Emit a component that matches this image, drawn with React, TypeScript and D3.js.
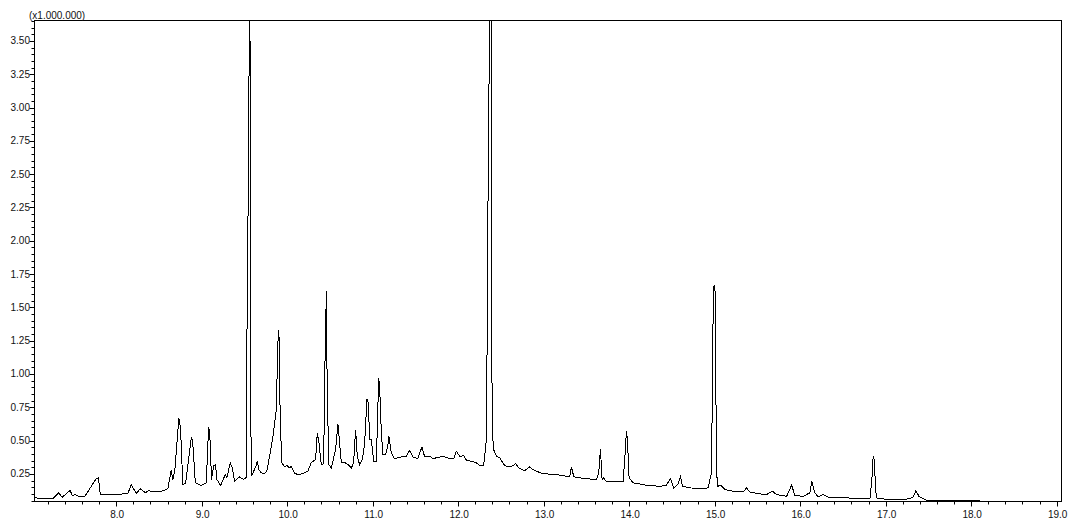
import React from "react";
import * as d3 from "d3";

// Chromatogram trace: [retention time (min), intensity (x1,000,000)]
const chromatogram: [number, number][] = [
  [7.044, 0.070], [7.258, 0.065], [7.328, 0.108], [7.368, 0.075], [7.434, 0.112],
  [7.462, 0.125], [7.485, 0.088], [7.524, 0.095], [7.571, 0.078], [7.629, 0.078],
  [7.766, 0.215], [7.793, 0.220], [7.813, 0.095], [8.000, 0.095], [8.136, 0.103],
  [8.176, 0.170], [8.234, 0.103], [8.281, 0.138], [8.343, 0.108], [8.382, 0.127],
  [8.410, 0.115], [8.507, 0.115], [8.604, 0.138], [8.644, 0.282], [8.662, 0.202],
  [8.686, 0.282], [8.733, 0.670], [8.752, 0.597], [8.779, 0.170], [8.811, 0.178],
  [8.878, 0.520], [8.893, 0.507], [8.925, 0.183], [8.995, 0.163], [9.053, 0.183],
  [9.080, 0.595], [9.092, 0.582], [9.115, 0.208], [9.139, 0.312], [9.162, 0.320],
  [9.177, 0.208], [9.221, 0.163], [9.276, 0.245], [9.294, 0.222], [9.334, 0.333],
  [9.358, 0.297], [9.384, 0.195], [9.443, 0.228], [9.490, 0.208], [9.519, 0.222],
  [9.521, 0.934], [9.533, 1.481], [9.552, 3.054], [9.560, 4.200], [9.568, 3.054],
  [9.572, 0.934], [9.580, 0.232], [9.599, 0.258], [9.638, 0.312], [9.650, 0.345],
  [9.669, 0.282], [9.697, 0.258], [9.736, 0.252], [9.762, 0.270], [9.794, 0.382],
  [9.833, 0.532], [9.872, 0.732], [9.891, 1.232], [9.903, 1.331], [9.919, 0.632],
  [9.938, 0.333], [9.970, 0.303], [9.997, 0.312], [10.028, 0.295], [10.048, 0.307],
  [10.087, 0.252], [10.145, 0.245], [10.204, 0.258], [10.242, 0.270], [10.282, 0.337],
  [10.332, 0.357], [10.352, 0.557], [10.371, 0.485], [10.399, 0.320], [10.426, 0.327],
  [10.441, 1.056], [10.458, 1.626], [10.465, 1.056], [10.485, 0.320], [10.516, 0.295],
  [10.566, 0.432], [10.593, 0.625], [10.613, 0.482], [10.633, 0.333], [10.672, 0.337],
  [10.710, 0.320], [10.750, 0.295], [10.777, 0.333], [10.800, 0.582], [10.820, 0.382],
  [10.847, 0.320], [10.879, 0.357], [10.906, 0.482], [10.933, 0.812], [10.949, 0.784],
  [10.964, 0.507], [10.984, 0.507], [11.011, 0.345], [11.043, 0.345], [11.070, 0.969],
  [11.081, 0.906], [11.101, 0.557], [11.120, 0.395], [11.152, 0.395], [11.178, 0.470],
  [11.190, 0.532], [11.218, 0.408], [11.257, 0.363], [11.315, 0.375], [11.394, 0.382],
  [11.432, 0.427], [11.471, 0.378], [11.526, 0.365], [11.576, 0.452], [11.608, 0.378],
  [11.667, 0.382], [11.705, 0.365], [11.822, 0.382], [11.901, 0.365], [11.947, 0.365],
  [11.979, 0.420], [12.018, 0.382], [12.068, 0.387], [12.096, 0.352], [12.154, 0.345],
  [12.213, 0.333], [12.252, 0.312], [12.298, 0.312], [12.330, 0.507], [12.337, 1.129],
  [12.349, 2.305], [12.363, 3.354], [12.375, 4.300], [12.389, 3.354], [12.393, 1.556],
  [12.397, 0.582], [12.415, 0.432], [12.447, 0.382], [12.486, 0.370], [12.544, 0.312],
  [12.603, 0.303], [12.638, 0.312], [12.673, 0.327], [12.708, 0.295], [12.778, 0.275],
  [12.837, 0.303], [12.876, 0.282], [12.915, 0.270], [12.993, 0.252], [13.149, 0.245],
  [13.266, 0.232], [13.305, 0.228], [13.325, 0.303], [13.352, 0.228], [13.480, 0.215],
  [13.617, 0.208], [13.644, 0.260], [13.664, 0.438], [13.683, 0.208], [13.703, 0.220],
  [13.734, 0.190], [13.929, 0.195], [13.948, 0.357], [13.968, 0.575], [13.980, 0.507],
  [13.999, 0.220], [14.046, 0.183], [14.202, 0.165], [14.358, 0.157], [14.436, 0.165],
  [14.483, 0.215], [14.522, 0.145], [14.569, 0.170], [14.600, 0.232], [14.624, 0.157],
  [14.709, 0.145], [14.846, 0.140], [14.923, 0.145], [14.963, 0.258], [14.982, 1.458],
  [14.993, 1.668], [15.005, 1.616], [15.015, 0.807], [15.029, 0.157], [15.072, 0.163],
  [15.119, 0.133], [15.216, 0.120], [15.333, 0.115], [15.373, 0.145], [15.411, 0.115],
  [15.528, 0.100], [15.607, 0.095], [15.677, 0.120], [15.724, 0.095], [15.841, 0.082],
  [15.880, 0.133], [15.900, 0.168], [15.938, 0.088], [16.035, 0.082], [16.113, 0.108],
  [16.137, 0.193], [16.172, 0.108], [16.211, 0.078], [16.270, 0.095], [16.348, 0.070],
  [16.543, 0.070], [16.816, 0.063], [16.839, 0.208], [16.854, 0.382], [16.866, 0.357],
  [16.886, 0.108], [16.901, 0.063], [17.205, 0.058], [17.284, 0.065], [17.323, 0.078],
  [17.354, 0.125], [17.393, 0.078], [17.479, 0.052], [17.868, 0.048], [18.416, 0.045],
  [18.450, 0.043],
];

const xMajorTicks = [8, 9, 10, 11, 12, 13, 14, 15, 16, 17, 18, 19];
const yMajorTicks = [0.25, 0.5, 0.75, 1.0, 1.25, 1.5, 1.75, 2.0, 2.25, 2.5, 2.75, 3.0, 3.25, 3.5];
const xDomain: [number, number] = [7.044, 19.057];
const yDomain: [number, number] = [0.043, 3.653];
const unitLabel = "(x1.000.000)";

export default function App() {
  const left = 34.5, right = 1061.5, top = 20.5, bottom = 501.5;
  const x = d3.scaleLinear().domain(xDomain).range([left, right]);
  const y = d3.scaleLinear().domain(yDomain).range([bottom, top]);
  const line = d3.line<[number, number]>().x(d => x(d[0])).y(d => y(d[1]));

  const xMinor = d3.range(36, 96).map(i => i / 5).filter(v => v % 1 !== 0 && v >= xDomain[0] && v <= xDomain[1]);
  const yMinor = d3.range(1, 74).map(i => i / 20).filter(v => (v * 4) % 1 !== 0 && v <= yDomain[1]);

  const font = "'Liberation Sans', Arial, sans-serif";
  const xf = d3.format(".1f");
  const yf = d3.format(".2f");

  return (
    <svg width={1082} height={528} style={{ position: "absolute", left: 0, top: 0, background: "#fff" }}>
      <defs>
        <clipPath id="plot">
          <rect x={left} y={top} width={right - left} height={bottom - top} />
        </clipPath>
      </defs>
      <rect x={0} y={0} width={1082} height={528} fill="#fff" />
      <path d={line(chromatogram) || ""} fill="none" stroke="#000" strokeWidth={1} clipPath="url(#plot)" shapeRendering="crispEdges" />
      <rect x={left} y={top} width={right - left} height={bottom - top} fill="none" stroke="#000" strokeWidth={1} shapeRendering="crispEdges" />
      {xMajorTicks.map(t => (
        <g key={"xm" + t}>
          <line x1={Math.round(x(t)) + 0.5} x2={Math.round(x(t)) + 0.5} y1={bottom} y2={bottom + 5} stroke="#000" />
          <text x={x(t) + 1} y={518} textAnchor="middle" fontFamily={font} fontSize={10} fill="#111">{xf(t)}</text>
        </g>
      ))}
      {xMinor.map(t => (
        <line key={"xn" + t} x1={Math.round(x(t)) + 0.5} x2={Math.round(x(t)) + 0.5} y1={bottom} y2={bottom + 3} stroke="#000" />
      ))}
      {yMajorTicks.map(v => (
        <g key={"ym" + v}>
          <line x1={left - 5} x2={left} y1={Math.round(y(v)) + 0.5} y2={Math.round(y(v)) + 0.5} stroke="#000" />
          <text x={30} y={y(v)} dy="0.35em" textAnchor="end" fontFamily={font} fontSize={10} fill="#111">{yf(v)}</text>
        </g>
      ))}
      {yMinor.map(v => (
        <line key={"yn" + v} x1={left - 3} x2={left} y1={Math.round(y(v)) + 0.5} y2={Math.round(y(v)) + 0.5} stroke="#000" />
      ))}
      <text x={29} y={19} fontFamily={font} fontSize={10} fill="#111">{unitLabel}</text>
    </svg>
  );
}
